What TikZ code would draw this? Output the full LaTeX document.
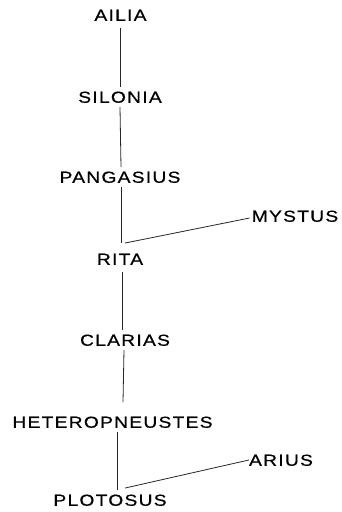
\documentclass[tikz,border=0pt]{standalone}
\usepackage{fontspec}
\setmainfont{Liberation Sans}[LetterSpace=8,FakeStretch=1.2,FakeBold=0.6]
\begin{document}
\begin{tikzpicture}[x=1pt,y=-1pt,
  taxon/.style={inner sep=0pt,text height=11.5pt,text depth=0pt,font=\fontsize{16}{18}\selectfont},
  link/.style={line width=0.8pt,black!85}]
\useasboundingbox (0,0) rectangle (341,512);
\node[taxon] (ailia) at (120.5,15) {AILIA};
\node[taxon] (silonia) at (120,97) {SILONIA};
\node[taxon] (pangasius) at (120,177) {PANGASIUS};
\node[taxon] (mystus) at (295,216) {MYSTUS};
\node[taxon] (rita) at (120,259) {RITA};
\node[taxon] (clarias) at (125,340) {CLARIAS};
\node[taxon] (hetero) at (112.5,422) {HETEROPNEUSTES};
\node[taxon] (arius) at (281,460) {ARIUS};
\node[taxon] (plotosus) at (110,500) {PLOTOSUS};
\draw[link] ([xshift=-0.5pt,yshift=-7pt]ailia.south) -- ([yshift=4pt]silonia.north);
\draw[link] ([yshift=-4pt]silonia.south) -- ([xshift=1pt,yshift=4pt]pangasius.north);
\draw[link] ([xshift=1pt,yshift=-4pt]pangasius.south) -- ([xshift=1pt,yshift=10pt]rita.north);
\draw[link] ([xshift=2pt,yshift=-7pt]rita.south) -- ([xshift=-3pt,yshift=4pt]clarias.north);
\draw[link] ([xshift=-1pt,yshift=-4pt]clarias.south) -- ([xshift=10.5pt,yshift=14pt]hetero.north);
\draw[link] ([xshift=4.5pt,yshift=-4pt]hetero.south) -- ([xshift=7pt,yshift=4pt]plotosus.north);
\draw[link] ([xshift=5pt,yshift=10pt]rita.north) -- ([xshift=-2pt,yshift=-2pt]mystus.west);
\draw[link] ([xshift=15pt,yshift=6pt]plotosus.north) -- (arius.west);
\end{tikzpicture}
\end{document}
